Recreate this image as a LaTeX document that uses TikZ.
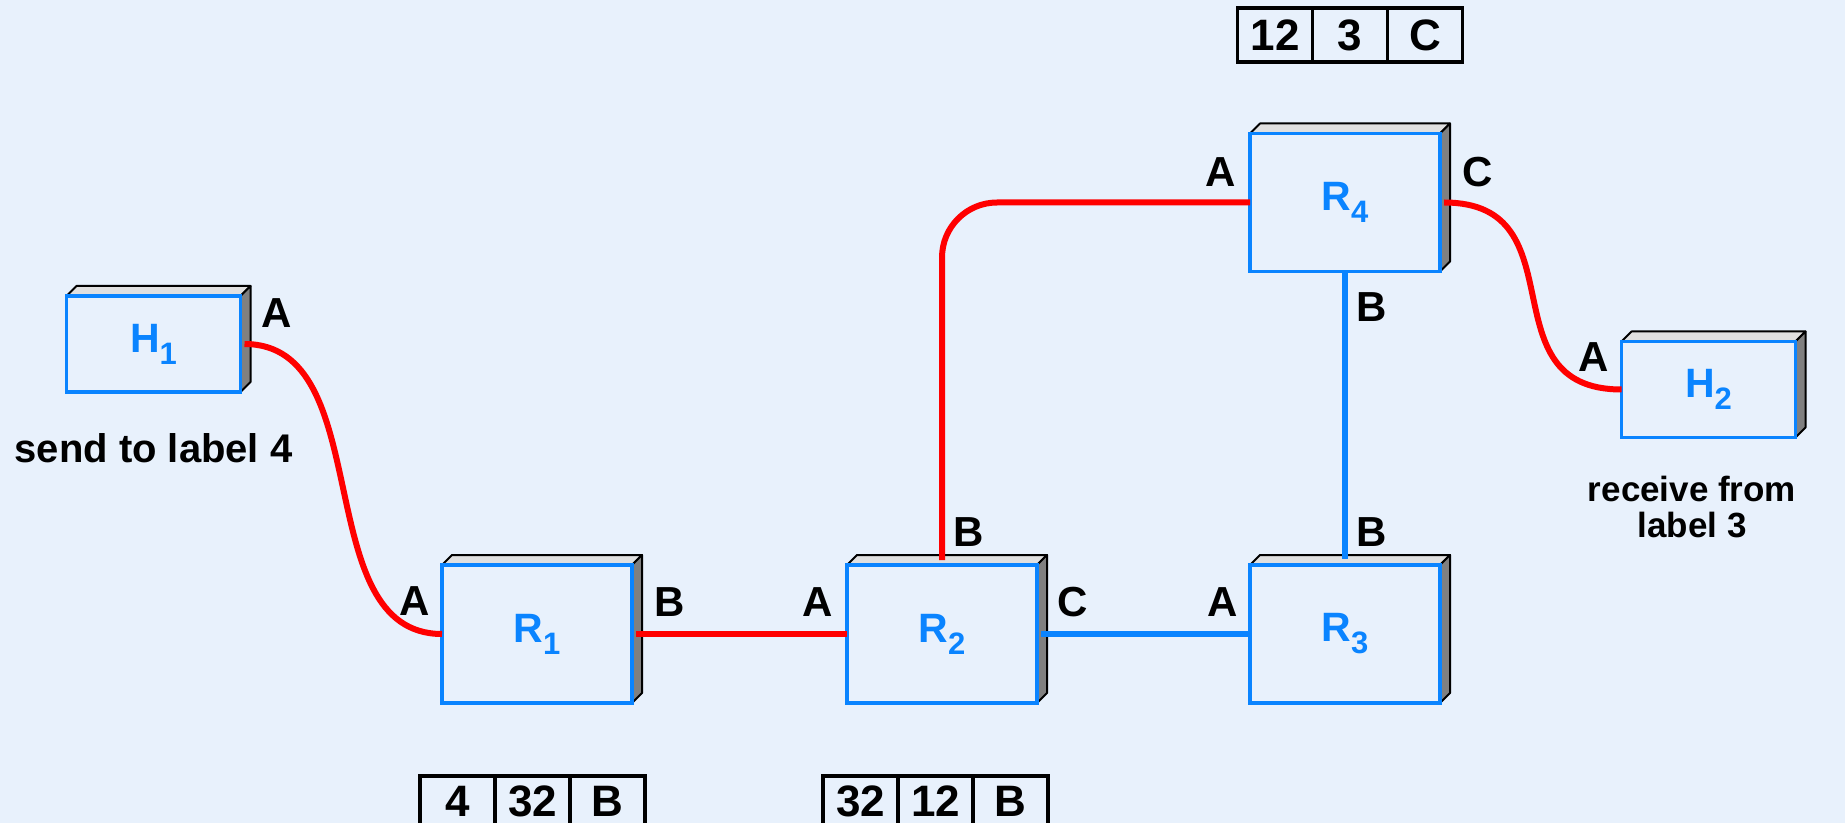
\documentclass[tikz,border=0pt]{standalone}
\usepackage{fontspec}
\setmainfont{Liberation Sans}
\definecolor{bg}{HTML}{E8F1FC}
\definecolor{nodeblue}{HTML}{0A84FF}
\definecolor{linkred}{HTML}{FF0000}
\definecolor{topgray}{HTML}{E0E0E0}
\definecolor{sidegray}{HTML}{808080}
\pgfdeclarelayer{bottomlayer}
\pgfdeclarelayer{facelayer}
\pgfsetlayers{bottomlayer,facelayer,main}
\newcommand{\boxfaces}[1]{%
  \begin{pgfonlayer}{facelayer}
  \filldraw[face, fill=topgray] (#1.north west) -- ++(5pt,5pt) -- ([shift={(5pt,5pt)}]#1.north east) -- (#1.north east) -- cycle;
  \filldraw[face, fill=sidegray] (#1.north east) -- ++(5pt,5pt) -- ([shift={(5pt,5pt)}]#1.south east) -- (#1.south east) -- cycle;
  \end{pgfonlayer}}
\newcommand{\lowsub}[1]{\raisebox{-6pt}{\fontsize{15.5}{16}\selectfont #1}}
\newcommand{\up}[1]{\raisebox{2pt}{#1}}
\begin{document}
\begin{tikzpicture}[x=0.5pt,y=-0.5pt,
  rbox/.style={draw=nodeblue, line width=1.8pt, fill=bg, minimum width=95pt, minimum height=69pt, outer sep=0pt, inner sep=0pt, text=nodeblue, font=\fontsize{20.5}{24}\selectfont\bfseries},
  hbox/.style={rbox, minimum width=87pt, minimum height=48pt},
  face/.style={draw=black, line width=1pt, line join=round},
  port/.style={font=\fontsize{21}{24}\selectfont\bfseries, inner sep=0pt},
  note/.style={font=\fontsize{20}{18}\selectfont\bfseries, inner sep=0pt, align=center},
  cell/.style={draw=black, line width=1.8pt, fill=bg, minimum width=37.5pt, minimum height=27pt, outer sep=0pt, inner sep=0pt, font=\fontsize{22}{24}\selectfont\bfseries},
  redlink/.style={draw=linkred, line width=3pt},
  bluelink/.style={draw=nodeblue, line width=3pt}]
\useasboundingbox (0,0) rectangle (1845,823);
\begin{pgfonlayer}{bottomlayer}
\fill[bg] (0,0) rectangle (1845,823);
\end{pgfonlayer}
\clip (0,0) rectangle (1845,823);
% boxes
\node[hbox] (h1) at (153.5,344) {H\lowsub{1}};
\node[rbox] (r1) at (537,634) {R\lowsub{1}};
\node[rbox] (r2) at (942,634) {R\lowsub{2}};
\node[rbox] (r3) at (1345,634) {R\lowsub{3}};
\node[rbox] (r4) at (1345,202.5) {R\lowsub{4}};
\node[hbox] (h2) at (1708.5,389.5) {H\lowsub{2}};
\foreach \n in {h1,r1,r2,r3,r4,h2} {\boxfaces{\n}}
% links
\draw[redlink] ([xshift=2pt]h1.east) .. controls +(135,0) and +(-135,0) .. (r1.west);
\draw[redlink] ([xshift=2pt]r4.east) .. controls +(138,0) and +(-138,0) .. (h2.west);
\draw[redlink] ([xshift=2pt]r1.east) -- (r2.west);
\draw[bluelink] ([xshift=2pt]r2.east) -- (r3.west);
\draw[redlink, rounded corners=27.5pt] ([yshift=2.5pt]r2.north) |- (r4.west);
\draw[bluelink] (r4.south) -- ([yshift=3pt]r3.north);
% port labels
\node[port] (h1a) at (277,313) {A};
\node[port] (r1a) at (415,601) {A};
\node[port] (r1b) at (670,602) {B};
\node[port] (r2a) at (818,602) {A};
\node[port] (r2b) at (969,532) {B};
\node[port] (r2c) at (1073,602) {C};
\node[port] (r3a) at (1223,602) {A};
\node[port] (r3b) at (1372,532) {B};
\node[port] (r4b) at (1372,307) {B};
\node[port] (r4a) at (1221,172) {A};
\node[port] (r4c) at (1478,172) {C};
\node[port] (h2a) at (1594,357) {A};
% notes
\node[note] (send) at (153.5,448) {send to label 4};
\node[note, font=\fontsize{17.5}{18}\selectfont\bfseries] (recv) at (1692,507) {receive from\\label 3};
% label tables
\node[cell] (t4a) at (1275,35) {12};
\node[cell] (t4b) at (1350,35) {3};
\node[cell] (t4c) at (1425,35) {C};
\node[cell] (t1a) at (457.5,803) {\up{4}};
\node[cell] (t1b) at (532.5,803) {\up{32}};
\node[cell] (t1c) at (607.5,803) {\up{B}};
\node[cell] (t2a) at (860.5,803) {\up{32}};
\node[cell] (t2b) at (935.5,803) {\up{12}};
\node[cell] (t2c) at (1010.5,803) {\up{B}};
\end{tikzpicture}
\end{document}
